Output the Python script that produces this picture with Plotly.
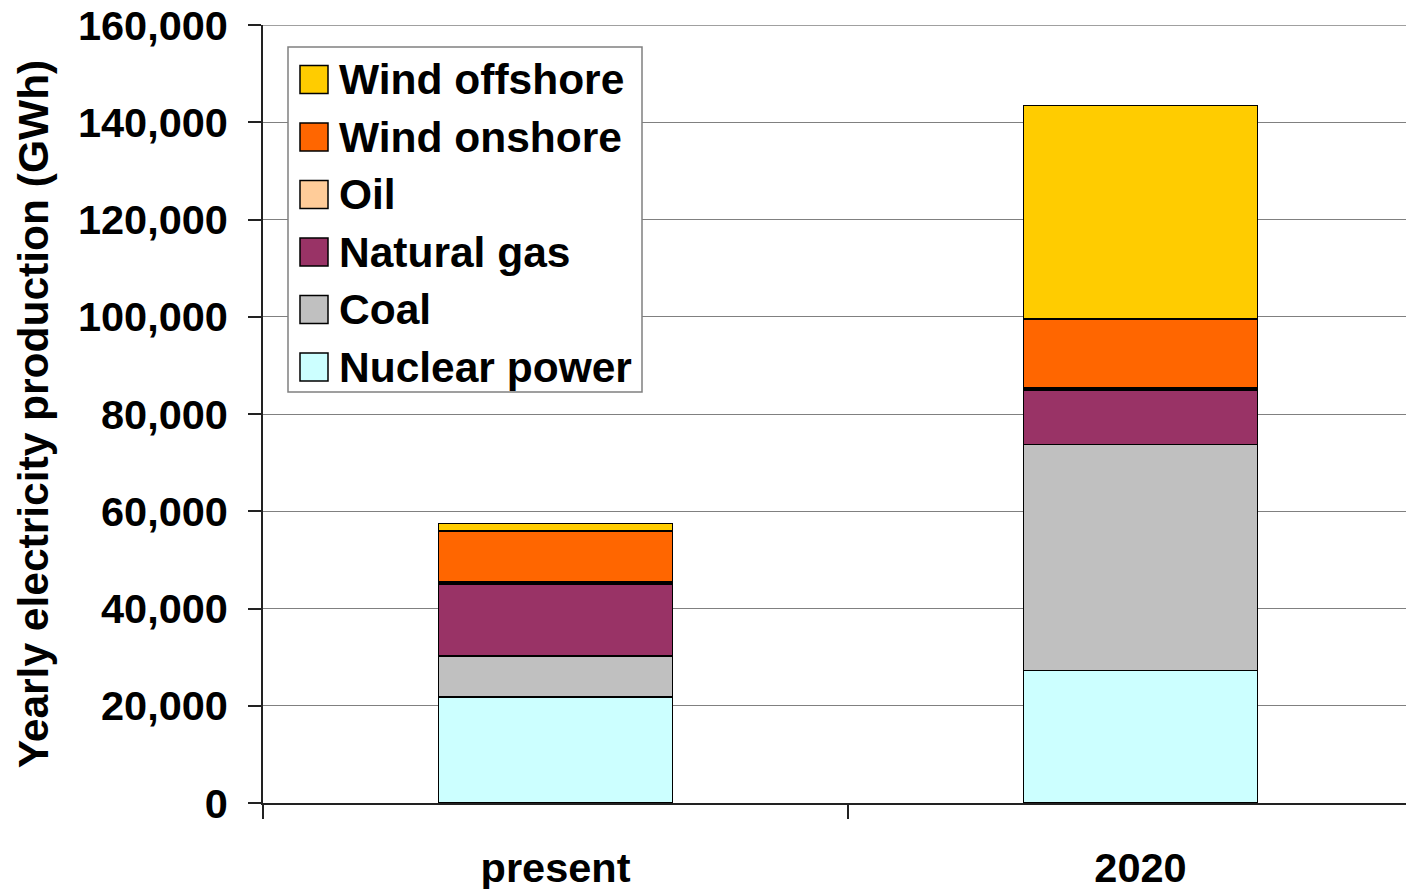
import plotly.graph_objects as go

categories = ["present", "2020"]
series_names = ["Nuclear power", "Coal", "Natural gas", "Oil", "Wind onshore", "Wind offshore"]
nuclear = [21800, 27300]
coal = [8400, 46400]
natural_gas = [14800, 11200]
oil = [400, 400]
wind_onshore = [10500, 14200]
wind_offshore = [1600, 43900]
colors = ["#CCFFFF", "#C0C0C0", "#993366", "#FFCC99", "#FF6600", "#FFCC00"]
y_ticks = [0, 20000, 40000, 60000, 80000, 100000, 120000, 140000, 160000]

values = [nuclear, coal, natural_gas, oil, wind_onshore, wind_offshore]

FONT = "Liberation Sans, Arial, Helvetica, sans-serif"
OFF = 8  # page body margin
W, H = 1414 - OFF, 889 - OFF
L, R, T, B = 263 - OFF, 0, 25 - OFF, 86
PW, PH = W - L - R, H - T - B

fig = go.Figure()
for name, vals, col in zip(series_names, values, colors):
    fig.add_trace(go.Bar(
        x=categories, y=vals, name=name, width=0.4,
        marker=dict(color=col, line=dict(color="#000000", width=1.5)),
        showlegend=False,
    ))

def px_x(p):
    return (p - OFF - L) / PW

def px_y(p):
    return (H - B - (p - OFF)) / PH

shapes = []
annotations = []
# top gridline at the range maximum
shapes.append(dict(type="line", xref="paper", yref="y", x0=0, x1=1,
                   y0=y_ticks[-1], y1=y_ticks[-1],
                   line=dict(color="#808080", width=1.5), layer="below"))
# legend frame
shapes.append(dict(type="rect", xref="paper", yref="paper",
                   x0=px_x(288), x1=px_x(642), y0=px_y(392), y1=px_y(47),
                   fillcolor="white", line=dict(color="#808080", width=1.5), layer="above"))
legend_order = list(range(len(series_names)))[::-1]
for i, idx in enumerate(legend_order):
    cy = 79.5 + i * 57.5
    shapes.append(dict(type="rect", xref="paper", yref="paper",
                       x0=px_x(300), x1=px_x(328), y0=px_y(cy + 14), y1=px_y(cy - 14),
                       fillcolor=colors[idx], line=dict(color="#000000", width=1.5), layer="above"))
    annotations.append(dict(xref="paper", yref="paper", x=px_x(337), y=px_y(cy),
                            xanchor="left", yanchor="middle", showarrow=False,
                            text=series_names[idx],
                            font=dict(family=FONT, size=42.5, color="black", weight="bold")))

fig.update_layout(
    width=W, height=H,
    margin=dict(l=L, r=R, t=T, b=B, autoexpand=False),
    barmode="stack",
    plot_bgcolor="white", paper_bgcolor="white",
    font=dict(family=FONT, size=41, color="black", weight="bold"),
    shapes=shapes, annotations=annotations,
    showlegend=False,
    xaxis=dict(
        range=[-0.5, -0.5 + PW / 585.0], type="category",
        showline=True, linecolor="#222222", linewidth=1.5,
        ticks="outside", tickson="boundaries", ticklen=14, tickcolor="#222222", tickwidth=1.5,
        showgrid=False, automargin=False, ticklabelstandoff=27,
        tickfont=dict(family=FONT, size=41.5, color="black", weight="bold"),
    ),
    yaxis=dict(
        range=[0, 160000], tickvals=y_ticks, tickformat=",d",
        showline=True, linecolor="#222222", linewidth=1.5,
        ticks="outside", ticklen=13, tickcolor="#222222", tickwidth=1.5,
        showgrid=True, gridcolor="#808080", gridwidth=1, zeroline=False,
        automargin=False, ticklabelstandoff=12, ticklabeloverflow="allow",
        tickfont=dict(family=FONT, size=41.5, color="black", weight="bold"),
        title=dict(text="Yearly electricity production (GWh)", standoff=16,
                   font=dict(family=FONT, size=42.5, color="black", weight="bold")),
    ),
)

fig.write_html("out.html")
